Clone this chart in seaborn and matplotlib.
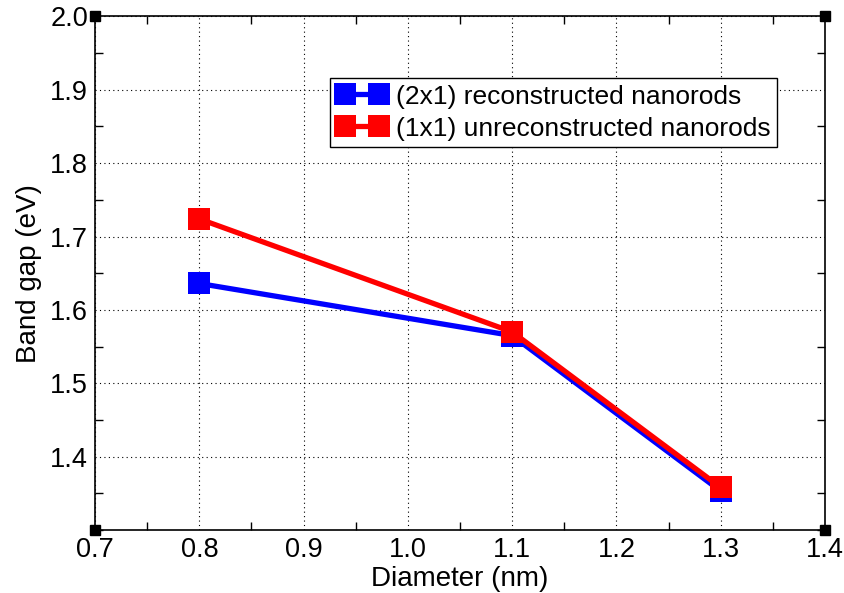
import matplotlib
matplotlib.use("Agg")
import matplotlib.pyplot as plt
import seaborn as sns
import pandas as pd
from matplotlib.ticker import MultipleLocator

diameters = [0.8, 1.1, 1.3]
gap_2x1 = [1.636, 1.565, 1.353]
gap_1x1 = [1.724, 1.570, 1.358]
labels = ["(2x1) reconstructed nanorods", "(1x1) unreconstructed nanorods"]
colors = ["#0000ff", "#ff0000"]

df = pd.DataFrame({
    "Diameter": diameters * 2,
    "Gap": gap_2x1 + gap_1x1,
    "Series": [labels[0]] * 3 + [labels[1]] * 3,
})

sns.set_style("white")
plt.rcParams["font.family"] = ["Liberation Sans", "DejaVu Sans"]
plt.rcParams["text.color"] = "black"
plt.rcParams["axes.labelcolor"] = "black"
plt.rcParams["xtick.color"] = "black"
plt.rcParams["ytick.color"] = "black"

fig = plt.figure(figsize=(8.44, 5.93), dpi=100)
ax = fig.add_axes([0.1126, 0.1062, 0.8649, 0.8661])

sns.lineplot(data=df, x="Diameter", y="Gap", hue="Series", palette=colors,
             marker="s", markersize=16.5, markeredgewidth=0, linewidth=3.8,
             dashes=False, ax=ax, legend=False)

ax.set_xlim(0.7, 1.4)
ax.set_ylim(1.3, 2.0)
ax.xaxis.set_major_locator(MultipleLocator(0.1))
ax.xaxis.set_minor_locator(MultipleLocator(0.05))
ax.set_yticks([1.4, 1.5, 1.6, 1.7, 1.8, 1.9, 2.0])
ax.yaxis.set_minor_locator(MultipleLocator(0.05))
ax.tick_params(which="major", length=0, labelsize=19.5, pad=5, labelcolor="black")
ax.tick_params(which="minor", direction="in", length=6, width=1.0,
               top=True, right=True, bottom=True, left=True, color="black")
ax.grid(True, which="major", linestyle=(0, (1, 3)), color="black", linewidth=0.8)
for s in ax.spines.values():
    s.set_color("black")
    s.set_linewidth(1.2)

ax.set_xlabel("Diameter (nm)", fontsize=20, labelpad=2, color="black")
ax.set_ylabel("Band gap (eV)", fontsize=20, labelpad=6, color="black")

# corner markers
for cx, cy in [(0, 0), (1, 0), (0, 1), (1, 1)]:
    ax.plot([cx], [cy], marker="s", color="black", markersize=6.5,
            transform=ax.transAxes, clip_on=False, zorder=5)

handles = [plt.Line2D([], [], color=c, marker="s", markersize=16,
                      markeredgewidth=0, linewidth=3.8) for c in colors]
leg = ax.legend(handles, labels, loc="upper left", bbox_to_anchor=(0.322, 0.880),
                fontsize=19, numpoints=2, handlelength=1.9, handletextpad=0.35,
                borderpad=0.25, labelspacing=0.3, fancybox=False,
                framealpha=1, edgecolor="black", borderaxespad=0)
leg.get_frame().set_linewidth(1.0)
for t in leg.get_texts():
    t.set_color("black")

fig.savefig("out.png", dpi=100)
